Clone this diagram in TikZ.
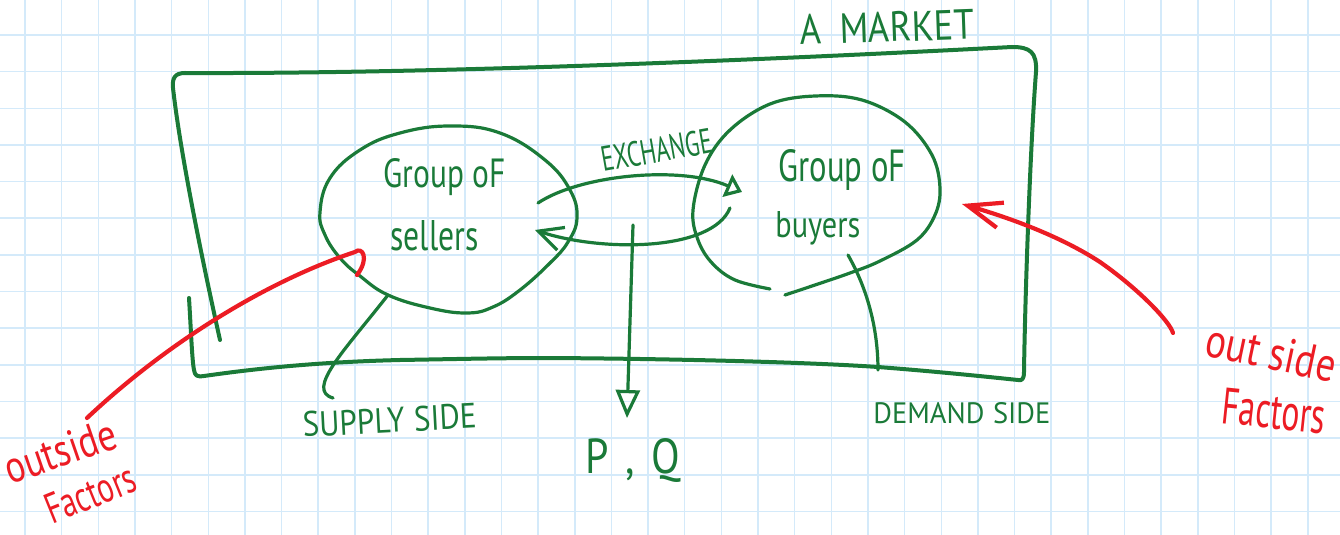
\documentclass[tikz,border=0pt]{standalone}
\usepackage{fontspec}
\setmainfont{PT Sans}
\usepackage{graphicx}
\usetikzlibrary{arrows.meta}
\definecolor{pen}{RGB}{26,122,56}
\definecolor{redpen}{RGB}{236,28,36}
\definecolor{gridc}{RGB}{212,234,250}
\newcommand\hw[3]{\resizebox{#1}{#2}{#3}}
\begin{document}
\begin{tikzpicture}[x=0.5pt,y=-0.5pt,
  gridline/.style={draw=gridc, line width=0.75pt},
  greenline/.style={draw=pen, line width=1.6pt, line cap=round, line join=round},
  boxline/.style={draw=pen, line width=2pt, line cap=round, line join=round},
  redline/.style={draw=redpen, line width=2.1pt, line cap=round, line join=round},
  gtext/.style={text=pen, inner sep=0pt, anchor=base west},
  rtext/.style={text=redpen, inner sep=0pt, anchor=base west},
]
\useasboundingbox[fill=white] (0,0) rectangle (1340,535);
% grid
\foreach \i in {0,...,35} \draw[gridline] ({25+36.65*\i},0) -- ({25+36.65*\i},535);
\foreach \j in {0,...,13} \draw[gridline] (0,{35+36.65*\j}) -- (1340,{35+36.65*\j});

% market box
\draw[boxline] (189,298) .. controls (191,330) and (192,360) .. (194,370) .. controls (195,376) and (197,377) .. (204,376)
  .. controls (260,368) and (320,362) .. (400,360) .. controls (460,359) and (500,358) .. (550,358)
  .. controls (700,359) and (820,363) .. (878,367) .. controls (930,371) and (980,376) .. (1018,380)
  .. controls (1022,381) and (1024,379) .. (1024,372) .. controls (1025,300) and (1030,150) .. (1036,72)
  .. controls (1037,52) and (1030,47) .. (1012,47) .. controls (800,58) and (450,74) .. (185,73)
  .. controls (175,73) and (172,78) .. (173,88) .. controls (180,150) and (200,250) .. (220,340);

% seller group
\draw[greenline] plot[smooth cycle, tension=0.7] coordinates {(320,212) (330,178) (360,150) (400,133) (450,126) (500,133) (545,160) (570,190) (577,218) (568,242) (550,263) (520,290) (493,307) (467,313) (430,308) (388,295) (360,276) (340,258) (325,235)};
% buyer group
\draw[greenline] plot[smooth, tension=0.6] coordinates {(785,295) (815,285) (850,273) (880,261) (917,240) (935,215) (940,188) (932,155) (905,122) (862,100) (815,96) (770,104) (730,130) (705,165) (693,210) (698,240) (712,263) (735,280) (770,289)};

% exchange arrows
\coordinate (exA) at (538,203);
\coordinate (exB) at (742,192);
\coordinate (exC) at (730,208);
\coordinate (exD) at (535,230);
\draw[greenline, -{Triangle[open,length=8pt,width=12pt]}] (exA) .. controls (580,175) and (680,165) .. (exB);
\draw[greenline, -{Straight Barb[length=12pt,width=12pt]}] (exC) .. controls (712,252) and (600,252) .. (exD);

% P,Q arrow
\coordinate (pqTop) at (633,225);
\coordinate (pqTip) at (627,418);
\draw[greenline, -{Triangle[open,length=14pt,width=12pt]}] (pqTop) -- (pqTip);

% supply / demand leaders
\coordinate (sup1) at (388,295);
\coordinate (sup2) at (333,398);
\draw[greenline] (sup1) .. controls (345,350) and (305,390) .. (sup2);
\coordinate (dem1) at (848,255);
\coordinate (dem2) at (878,370);
\draw[greenline] (dem1) .. controls (868,290) and (878,330) .. (dem2);

% red arrows
\coordinate (rl1) at (87,418);
\coordinate (rl2) at (355,252);
\draw[redline] (rl1) .. controls (170,340) and (270,280) .. (rl2) .. controls (362,246) and (370,258) .. (357,275);
\coordinate (rr1) at (1173,333);
\coordinate (rr2) at (962,204);
\draw[redline, -{Straight Barb[length=17pt,width=13pt]}] (rr1) .. controls (1170,322) and (1140,290) .. (1100,262) .. controls (1060,236) and (1010,218) .. (rr2);

% texts
\node[gtext, rotate=2] (market) at (800,45) {\hw{87pt}{15pt}{A\hspace{0.5em}MARKET}};
\node[gtext, rotate=10] (exchange) at (603,172) {\hw{56pt}{12.5pt}{EXCHANGE}};
\node[gtext] (sg) at (383,187) {\hw{61pt}{14.5pt}{Group oF}};
\node[gtext] (ss) at (390,250) {\hw{44pt}{15pt}{sellers}};
\node[gtext] (bg) at (778,182) {\hw{63.5pt}{16pt}{Group oF}};
\node[gtext] (bb) at (775,238) {\hw{42.5pt}{13pt}{buyers}};
\node[gtext, rotate=3] (supply) at (303,437) {\hw{87pt}{12.5pt}{SUPPLY\hspace{0.3em}SIDE}};
\node[gtext] (demand) at (873,423) {\hw{88.5pt}{10.5pt}{DEMAND\hspace{0.3em}SIDE}};
\node[gtext] (pq) at (585,473) {\hw{47.5pt}{17.5pt}{P\hspace{0.4em},\hspace{0.4em}Q}};
\node[rtext, rotate=19] (lo) at (10,485) {\hw{58pt}{16pt}{outside}};
\node[rtext, rotate=22] (lf) at (52,525) {\hw{47pt}{15pt}{Factors}};
\node[rtext, rotate=-12] (ro) at (1203,355) {\hw{66pt}{17pt}{out side}};
\node[rtext, rotate=-6] (rf) at (1220,423) {\hw{52pt}{18pt}{Factors}};
\end{tikzpicture}
\end{document}
